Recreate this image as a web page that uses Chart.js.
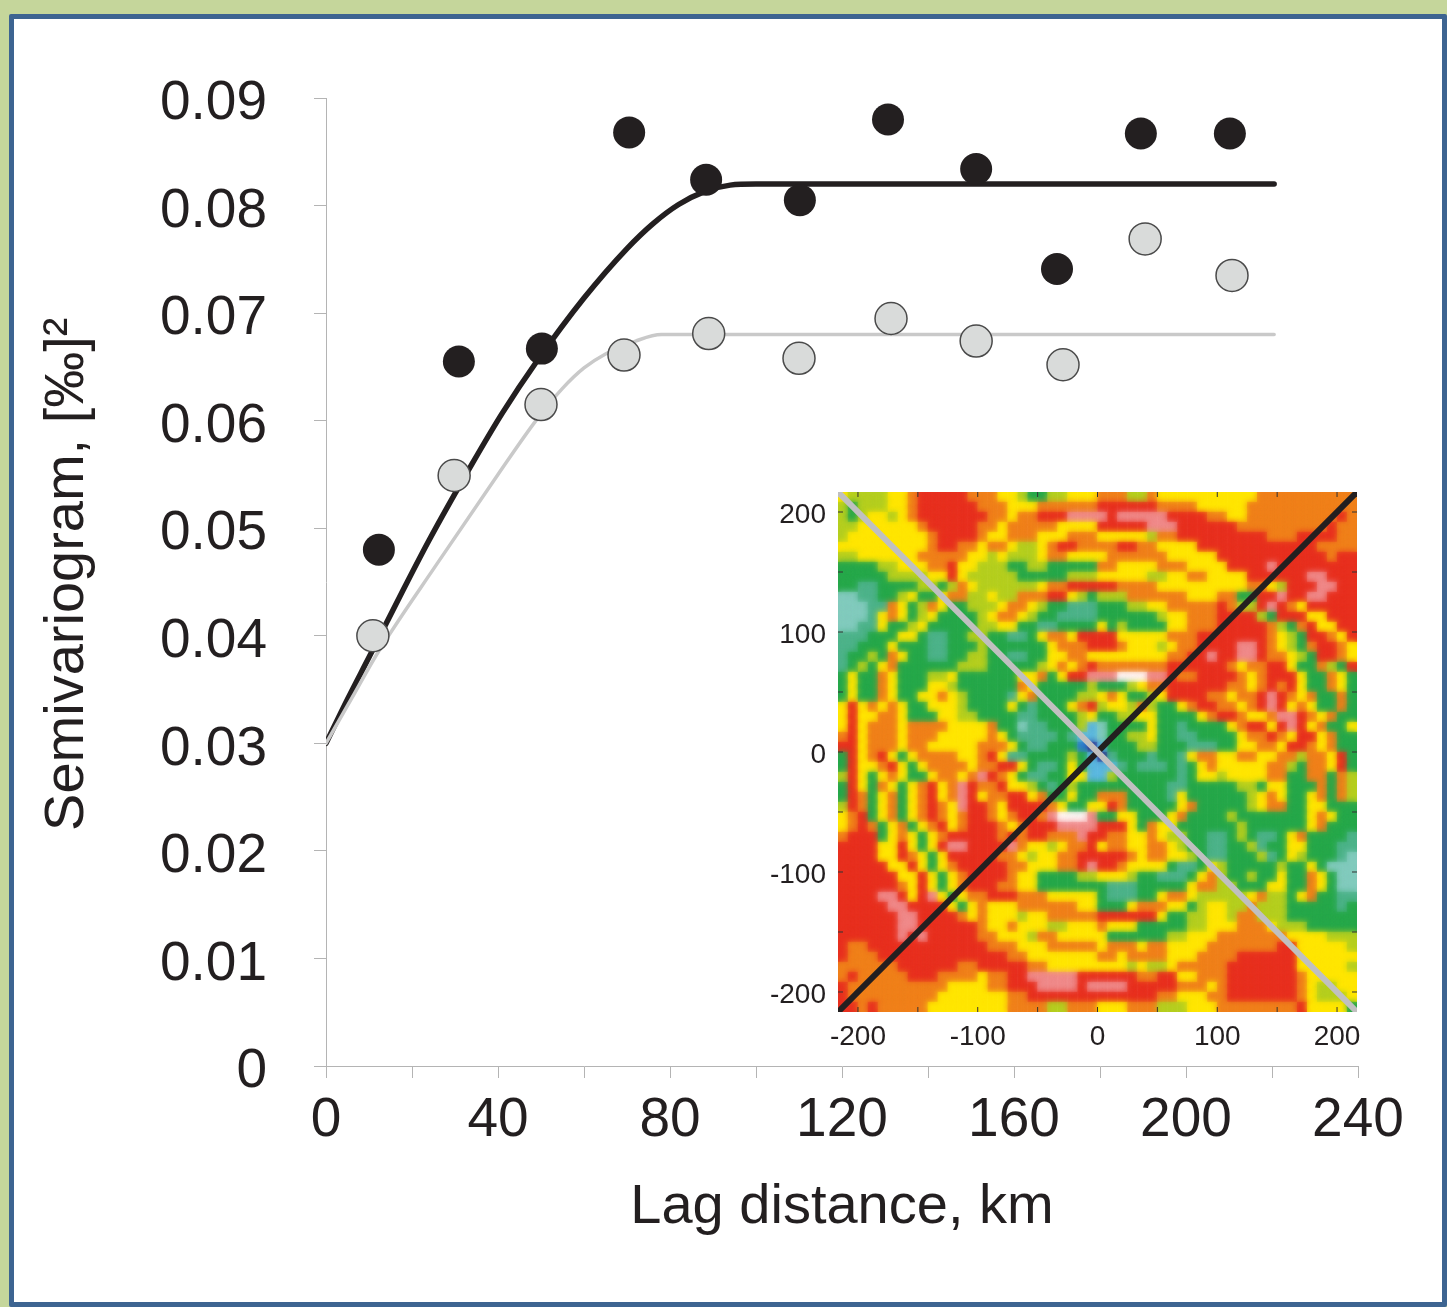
<!DOCTYPE html>
<html>
<head>
<meta charset="utf-8">
<title>Semivariogram</title>
<script src="https://cdn.jsdelivr.net/npm/chart.js@4"></script>
<style>
    html, body { margin: 0; padding: 0; background: #c5d69b; }
    #frame {
        position: absolute; left: 9px; top: 14px; width: 1428px; height: 1283px;
        background: #fff; border: 5px solid #3d6491; border-radius: 2px;
    }
    #main-box { position: absolute; left: 0; top: 0; width: 1447px; height: 1307px; }
    #inset-box { position: absolute; left: 760px; top: 480px; width: 620px; height: 580px; }
</style>
</head>
<body>
<div id="frame"></div>
<div id="main-box"><canvas id="main-chart" width="1447" height="1307"></canvas></div>
<div id="inset-box"><canvas id="inset-chart" width="620" height="580"></canvas></div>

<script>
// Semivariogram points
const blackX = [12.3, 30.9, 50.2, 70.5, 88.4, 110.2, 130.7, 151.2, 170, 189.5, 210.2];
const blackY = [0.0480, 0.0655, 0.0667, 0.0868, 0.0824, 0.0805, 0.0880, 0.0834, 0.0741, 0.0867, 0.0867];
const grayX = [10.9, 29.8, 50, 69.3, 89, 110, 131.4, 151.2, 171.4, 190.5, 210.7];
const grayY = [0.0400, 0.0549, 0.0615, 0.0661, 0.0681, 0.0658, 0.0695, 0.0674, 0.0652, 0.0769, 0.0735];

// Fitted model curves
const blackCurveX = [0, 5, 10, 18, 24, 34, 41, 49, 60, 70, 76, 82, 88, 94, 100, 110, 220.5];
const blackCurveY = [0.03, 0.0341, 0.038, 0.0443, 0.0489, 0.056, 0.0607, 0.0655, 0.0714, 0.076, 0.0783, 0.0801, 0.0813, 0.0819, 0.082, 0.082, 0.082];
const grayCurveX = [0, 6, 12, 26, 40, 49, 55, 60, 65, 72, 78, 90, 110, 220.5];
const grayCurveY = [0.03, 0.0342, 0.0384, 0.0468, 0.055, 0.0601, 0.063, 0.0649, 0.0662, 0.0674, 0.068, 0.068, 0.068, 0.068];

// Tick labels of the main axes
const xTickLabels = ['0', '', '40', '', '80', '', '120', '', '160', '', '200', '', '240'];
const yTickLabels = ['0', '0.01', '0.02', '0.03', '0.04', '0.05', '0.06', '0.07', '0.08', '0.09'];

// Inset map: ticks, and the two direction lines
const insetLimit = 216.67;
const insetTicks = [-200, -150, -100, -50, 0, 50, 100, 150, 200];
const lineRising = [[-insetLimit, -insetLimit], [insetLimit, insetLimit]];
const lineFalling = [[-insetLimit, insetLimit], [insetLimit, -insetLimit]];

// Inset map cells by colour class, left half then right half of each row
const heatLeft = [
    'YLLLLYYORRRRROOOYYLGGLLYYY',
    'LGLLLYYORRRRRROOOYYYOOOOOO',
    'LGLYYLYORRRRRRROOYOORRRPPP',
    'LLYYYYYYORRRRROOYOOOOOYYYY',
    'LYYYYYYYYORRRROYYOOOYYYOOO',
    'YYYYYYYYYORROOYOOYLLYORROO',
    'LLYYYYYYOOOOOYYLYLLLYOOYYY',
    'GGGGLLYYYOORYYLLLGGLLGGGGG',
    'GGGGGLLLLYYRYLLLLLGGGGGLLL',
    'GGSSGGGGLLGLOYLLLLLLYOORRR',
    'TTSSGGLYGGYOOLLYLLOOORRYLG',
    'TTTSSOYGLOYGGLLLYOOYLGGSSS',
    'TTTSYOYGLYGGGGLYOOYLGGSSSS',
    'TTSSYGGLYGGGGGLLYYGGSSGGGG',
    'SSSGGGYYGSSGGLLGGSSGYOOYRR',
    'SSGGGYGGGSSGGGLGGGGGGYOOOR',
    'SGGLGOYGGSSGGLLGGSSGGYYOOY',
    'SGLGYOGGGGGGLLLGGGGGLYOYOR',
    'GYGGOYGGGLLYGGGGGGYYOGYRRP',
    'GYGGOYGGGYYLGGGGGGOYGGGGGL',
    'GYGGOYGGYYOYLGGGGSYOGGGGLL',
    'YRYOYOYGGYYYLGGGGYGSGGGYOR',
    'YRYYOOYGGGYYLLGGGGSSGGGGLY',
    'YRYOOOYOOOOYYYYOGGTSSGGGLC',
    'ORYOOOYOOOYYYYYOYGSSSSGSCC',
    'RRYOOOYOOYYYYYOOOYGSSGGGBD',
    'GRYORYGYOOOOYYORYSSGGGGLGC',
    'GRYYORYGYOOOOYOORRYGSSGYGC',
    'LRYGYOYGGYOOYOPROYGSSGGYYC',
    'GRYGOYGYORYOPROORYYLGSGLGG',
    'GROGYOGYORYOPRYOORRYOGGYGG',
    'LROGYOGYOROYPRROYRRRROYGGY',
    'YORGYOGYOROYORROYORROPWWWP',
    'YOROGYOGYORYORRROYORRRPPPP',
    'ORRRGYOYGYORRRRRORORROOOPR',
    'RRRRYYRYGYRPPRRRRPOYYLYOOR',
    'RRRRYYROYGYRRRRROOYLYYOORR',
    'RRRRRYYRYGYORRRRROOYYYOORP',
    'RRRRRRYYRYGYORRRROYYGGGGLL',
    'RRRRRROYRYGYORRROOYYGGGGGG',
    'RRRRPPRYRPYGYOORRROOOYYYYY',
    'RRRRRPPRRRRYGYOYYYOOOOOOYY',
    'RRRRRRPPRRRROYOYYYLYYOOOOO',
    'RRRRRRPPRRRRRROYYOYYYLLYYY',
    'RRRRRRPRPRRRRROOYYYLOOYYYY',
    'ROORRRRRRRRRRRROOOYYYOOOOO',
    'ROOORRRRRRRRRRRRROOYYYYYYY',
    'OOOOOORRRRRROORRRRROOYYYYY',
    'OROOOOORRROOOOYOORRPPPPPRR',
    'ROOOOOOOOOOYYYYOORRRPPPPRP',
    'ROOOOOOOOOYYYYYYYOORRRRRRR',
    'RROROOOOOYYYYYYYYOOOOLLOOO'
];
const heatRight = [
    'OOOLLOYYYYYYYYYYOOOOOOOOOO',
    'RRRRRROOOOYYYYYOOOOOOOOOOO',
    'PRPPPPPRRRROOYYOOOOOOOOORO',
    'RRRRRPPPRRRRRROOOOOOOOOROO',
    'YYYYYLOORRRRRRRRROOORRRROO',
    'OORROOYYYYRRRRRRRRRRRROOOO',
    'YOOOOOOYYYYYRRRRRRRRRRRORR',
    'OOYYYYOOOYYYYRRRRPRRRRRRRR',
    'YYYYYLLYYOOYYYYRRRRRRPPRRR',
    'RROOOOYYYYYYYYYOOYLRRRPPRR',
    'LLLOOOOOOYYYOOGGRRPRRPPRRR',
    'GGGLLYYOOOOOROLLRPROYRRRRR',
    'GGGGGGLYYOOORRRRLGRRRYYRRR',
    'YGLGGGGYYOOORRRRROLGORYYRR',
    'RRYYYYYOOORRRRRRROYLGRROYR',
    'RROYYYLYOORRRRPPROYLGORROY',
    'YYYYYYYOORRPRRPPROOYLGRROY',
    'OOOOOOORRRRRROYOORRYGGOLGR',
    'PPWWWPPROORRRROYORRRYGGOYG',
    'GGGLYOORRRRRROOYORORYGGOYG',
    'YOYGGLYRRRROOYOORPROYOGGOG',
    'LYYLOLGGYORROOYORPRYOYGGOG',
    'GGLLYYGGGGYORROYYOPPROYOGG',
    'TGGGGYGGSGGGGYORRYRPRYOGGY',
    'TGGLLYGGSSGGGGYOOROYRRYOGG',
    'CGGGLLGGGSSSGGYYOOYRROYOGG',
    'DSGGGSGGSYOOYYOOYYOOLOOYRG',
    'CCSGSSSGSGYOYYYYYOOLGOOYRG',
    'CLGGGGGGSGYYLYYYYOOGGOOGOL',
    'GGGGGGGSSGGGGGLLGYYGGGOGOL',
    'OOOGGGGSYGGGGGGLYOYGGYOGOL',
    'YROGGGGGYOGGGGGLYOOGGYYGGG',
    'GGYYGGGYOGGGGLGGGGGGGYOYGG',
    'RRRYGOYYGGGGGGLGGGGGGYOGGG',
    'ROOYYOYLLGGSSGLGSSGYOGGGGS',
    'YOOYYOOYLGGSSGGLSGGYYGGGSS',
    'RRROYOOYYLGSSGGGLSGYLGGGST',
    'RROYYYYGSSGYLGGGGGLGGYGTTT',
    'YYYLGGSSSGYOLGGLGGYGGOYGTT',
    'GSSSGGGGGYOOLLGGGYYGGOYGTT',
    'GSSSGGYOOYLLLLLYOLLGYOGGSS',
    'GGGYOOOYYGLYYLLOLLLGGGGGSG',
    'RRRRRRYGGLLYYLOOLLLGGGGGGG',
    'OYYYGGGGGLLYYYOOOYLLLGGGGG',
    'YGGGGGGLLYYYOOOOOOOYYYYLLL',
    'YOOOYOOYYYYOOOOOOORRYYYYYL',
    'OOYOOOOYYYOOOORRRRRRYYYYYY',
    'YYYLYLLYOOOOORRRRRRRYYYYYL',
    'RRRROORRYYOOORRRRRRROYYYYY',
    'PPPRRRRROOOYORRRRRRROYLLYY',
    'RRRRRROOYYYOORRRRRRROYLLLY',
    'YYYOOOLLLYYYOOOOOOOORYYYYG'
];
const heatColors = {
    R: '#e8301f', O: '#f0801a', Y: '#ffe600', L: '#b5cf1f', G: '#26a84a', S: '#4db38a',
    T: '#82cbbd', P: '#f08a8a', W: '#fff5f5', C: '#5bb8e0', B: '#2f7fd0', D: '#2b2f8f'
};

const textColor = '#231f20';
const axisColor = '#b4b4b4';
const fontName = '"Liberation Sans", Arial, sans-serif';

function toPoints(xs, ys) {
    return xs.map((x, i) => ({ x: x, y: ys[i] }));
}

/**
 * Main chart: points and model curves
 */
function drawMainChart() {
    const ctx = document.getElementById('main-chart').getContext('2d');
    new Chart(ctx, {
        type: 'scatter',
        data: {
            datasets: [{
                data: toPoints(grayX, grayY),
                order: 0,
                pointRadius: 16,
                pointBackgroundColor: '#d9dbda',
                pointBorderColor: '#4a4a4a',
                pointBorderWidth: 1.5
            }, {
                data: toPoints(blackX, blackY),
                order: 1,
                pointRadius: 16,
                pointBackgroundColor: textColor,
                pointBorderColor: textColor,
                pointBorderWidth: 0
            }, {
                data: toPoints(grayCurveX, grayCurveY),
                order: 2,
                showLine: true,
                cubicInterpolationMode: 'monotone',
                borderColor: '#c9c9c9',
                borderWidth: 3.5,
                borderCapStyle: 'round',
                pointRadius: 0
            }, {
                data: toPoints(blackCurveX, blackCurveY),
                order: 3,
                showLine: true,
                cubicInterpolationMode: 'monotone',
                borderColor: textColor,
                borderWidth: 5.5,
                borderCapStyle: 'round',
                pointRadius: 0
            }]
        },
        options: {
            responsive: false,
            animation: false,
            layout: { padding: { left: 0, top: 98, right: 89, bottom: 0 } },
            plugins: { legend: { display: false }, tooltip: { enabled: false } },
            scales: {
                x: {
                    min: 0,
                    max: 240,
                    afterFit: function(scale) { scale.height = 241; },
                    border: { color: axisColor, width: 1 },
                    grid: { drawOnChartArea: false, tickLength: 12, tickColor: axisColor },
                    ticks: {
                        stepSize: 20,
                        autoSkip: false,
                        maxRotation: 0,
                        padding: 10,
                        color: textColor,
                        font: { family: fontName, size: 55 },
                        callback: function(value, index) { return xTickLabels[index]; }
                    },
                    title: {
                        display: true,
                        text: 'Lag distance, km',
                        color: textColor,
                        font: { family: fontName, size: 56 },
                        padding: { top: 0, bottom: 66 }
                    }
                },
                y: {
                    min: 0,
                    max: 0.09,
                    afterFit: function(scale) { scale.width = 326; },
                    border: { color: axisColor, width: 1 },
                    grid: { drawOnChartArea: false, tickLength: 12, tickColor: axisColor },
                    ticks: {
                        stepSize: 0.01,
                        autoSkip: false,
                        padding: 47,
                        labelOffset: 6,
                        color: textColor,
                        font: { family: fontName, size: 55 },
                        callback: function(value, index) { return yTickLabels[index]; }
                    },
                    title: {
                        display: true,
                        text: ' Semivariogram, [‰]²',
                        color: textColor,
                        font: { family: fontName, size: 56 },
                        padding: { top: 34, bottom: 0 }
                    }
                }
            }
        }
    });
}

/**
 * Build one point per map cell from the colour-class rows
 */
function buildHeatPoints() {
    const cellSize = 2 * insetLimit / heatLeft.length;
    const points = [];
    const colors = [];
    heatLeft.forEach(function(left, r) {
        const row = left + heatRight[r];
        for (let c = 0; c < row.length; c++) {
            points.push({
                x: -insetLimit + (c + 0.5) * cellSize,
                y: insetLimit - (r + 0.5) * cellSize
            });
            colors.push(heatColors[row[c]]);
        }
    });
    return { points: points, colors: colors };
}

// Short inward ticks on all four sides of the map
const insetTickMarks = {
    id: 'insetTickMarks',
    afterDatasetsDraw: function(chart) {
        const area = chart.chartArea;
        const c = chart.ctx;
        const len = 5;
        c.save();
        c.strokeStyle = '#333';
        c.lineWidth = 1;
        c.beginPath();
        insetTicks.forEach(function(v) {
            const px = chart.scales.x.getPixelForValue(v);
            const py = chart.scales.y.getPixelForValue(v);
            c.moveTo(px, area.top);
            c.lineTo(px, area.top + len);
            c.moveTo(px, area.bottom);
            c.lineTo(px, area.bottom - len);
            c.moveTo(area.left, py);
            c.lineTo(area.left + len, py);
            c.moveTo(area.right, py);
            c.lineTo(area.right - len, py);
        });
        c.stroke();
        c.restore();
    }
};

// The map is soft in the picture: the upper copy of the cells is drawn blurred
const softenCells = {
    id: 'softenCells',
    beforeDatasetDraw: function(chart, args) {
        if (args.index === 2) {
            chart.ctx.filter = 'blur(3px)';
        }
    },
    afterDatasetDraw: function(chart, args) {
        if (args.index === 2) {
            chart.ctx.filter = 'none';
        }
    }
};

function setInsetTicks(scale) {
    scale.ticks = insetTicks.map(v => ({ value: v }));
}

function insetLabel(value) {
    return value % 100 === 0 ? String(value) : '';
}

function fitInsetX(scale) {
    scale.height = 48;
    scale.paddingLeft = 0;
    scale.paddingRight = 0;
}

function fitInsetY(scale) {
    scale.width = 78;
    scale.paddingTop = 0;
    scale.paddingBottom = 0;
}

/**
 * Inset: the map with two direction lines on top
 */
function drawInsetChart() {
    const ctx = document.getElementById('inset-chart').getContext('2d');
    const heat = buildHeatPoints();
    const cellStyle = {
        data: heat.points,
        pointStyle: 'rect',
        pointRadius: 7.3,
        pointBorderWidth: 0,
        pointBackgroundColor: heat.colors
    };
    new Chart(ctx, {
        type: 'scatter',
        data: {
            datasets: [{
                data: lineFalling.map(p => ({ x: p[0], y: p[1] })),
                order: 0,
                showLine: true,
                borderColor: '#c0c0c0',
                borderWidth: 6,
                pointRadius: 0
            }, {
                data: lineRising.map(p => ({ x: p[0], y: p[1] })),
                order: 1,
                showLine: true,
                borderColor: '#231f20',
                borderWidth: 6,
                pointRadius: 0
            }, Object.assign({ order: 2 }, cellStyle), Object.assign({ order: 3 }, cellStyle)]
        },
        options: {
            responsive: false,
            animation: false,
            layout: { padding: { left: 0, top: 12, right: 23, bottom: 0 } },
            plugins: { legend: { display: false }, tooltip: { enabled: false } },
            scales: {
                x: {
                    min: -insetLimit,
                    max: insetLimit,
                    afterBuildTicks: setInsetTicks,
                    afterFit: fitInsetX,
                    border: { display: false },
                    grid: { display: false },
                    ticks: {
                        autoSkip: false,
                        maxRotation: 0,
                        padding: 0,
                        color: textColor,
                        font: { family: fontName, size: 28 },
                        callback: insetLabel
                    }
                },
                y: {
                    min: -insetLimit,
                    max: insetLimit,
                    afterBuildTicks: setInsetTicks,
                    afterFit: fitInsetY,
                    border: { display: false },
                    grid: { display: false },
                    ticks: {
                        autoSkip: false,
                        padding: 4,
                        labelOffset: 3,
                        color: textColor,
                        font: { family: fontName, size: 28 },
                        callback: insetLabel
                    }
                }
            }
        },
        plugins: [softenCells, insetTickMarks]
    });
}

drawMainChart();
drawInsetChart();
</script>
</body>
</html>
